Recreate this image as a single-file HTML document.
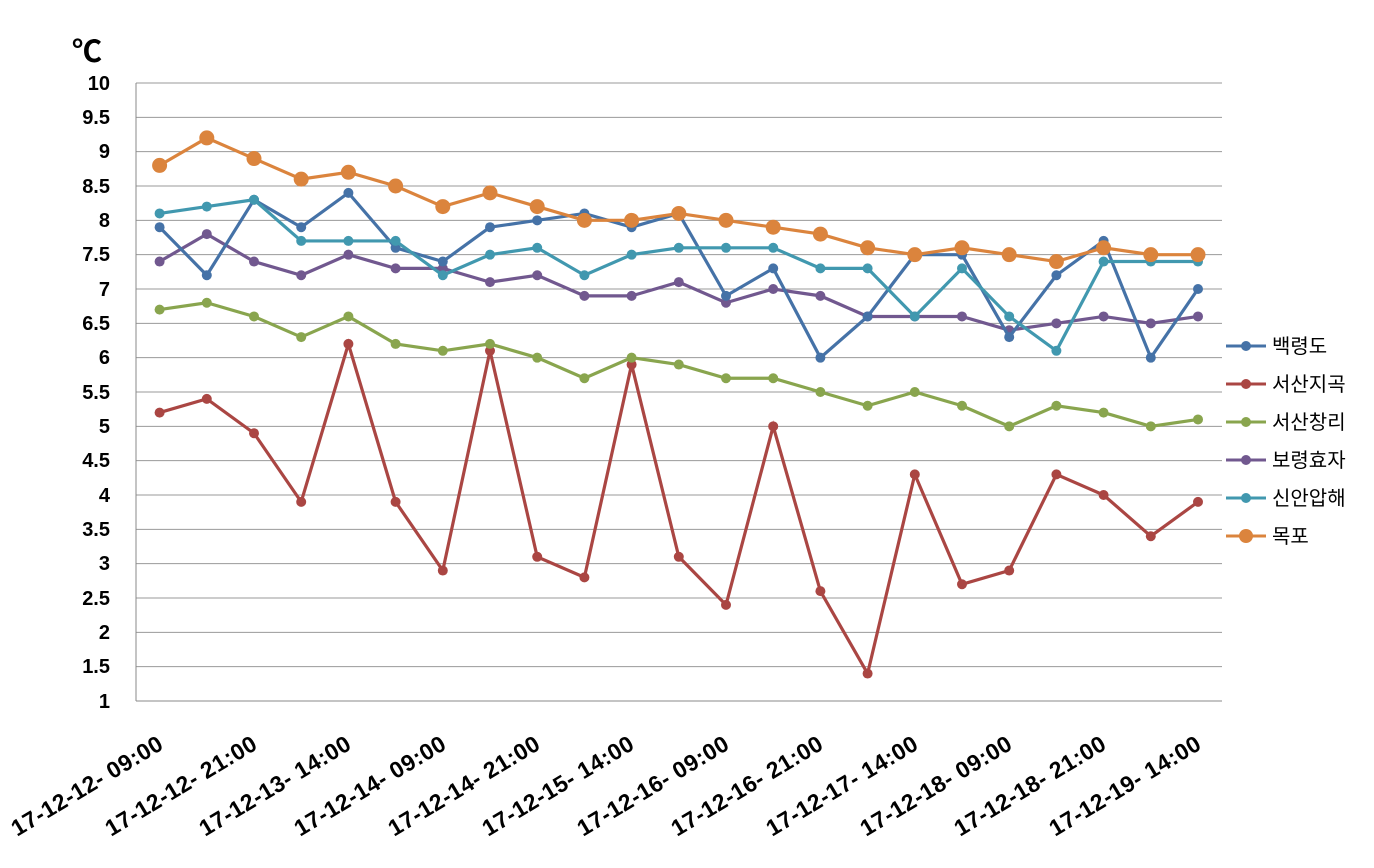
<!DOCTYPE html>
<html><head><meta charset="utf-8"><style>
html,body{margin:0;padding:0;background:#fff}
svg text{font-family:"Liberation Sans","Noto Sans CJK KR",sans-serif;font-weight:bold;fill:#000}
</style></head><body>
<svg id="c" width="1374" height="863" xmlns="http://www.w3.org/2000/svg">
<g id="grid" stroke="#999" stroke-width="1"></g>
<line x1="136" y1="83" x2="136" y2="701" stroke="#888"/>
<line x1="136" y1="701" x2="1222" y2="701" stroke="#888"/>
<text x="72" y="62" font-size="30">℃</text>
<g font-size="20" text-anchor="end">
<text x="110" y="90">10</text><text x="110" y="124">9.5</text><text x="110" y="158">9</text><text x="110" y="193">8.5</text><text x="110" y="227">8</text><text x="110" y="261">7.5</text><text x="110" y="296">7</text><text x="110" y="330">6.5</text><text x="110" y="364">6</text><text x="110" y="399">5.5</text><text x="110" y="433">5</text><text x="110" y="467">4.5</text><text x="110" y="502">4</text><text x="110" y="536">3.5</text><text x="110" y="570">3</text><text x="110" y="605">2.5</text><text x="110" y="639">2</text><text x="110" y="673">1.5</text><text x="110" y="708">1</text>
</g>
<g font-size="23" text-anchor="end" letter-spacing="0.5">
<text transform="translate(165,748) rotate(-31)">17-12-12- 09:00</text>
<text transform="translate(259,748) rotate(-31)">17-12-12- 21:00</text>
<text transform="translate(353,748) rotate(-31)">17-12-13- 14:00</text>
<text transform="translate(448,748) rotate(-31)">17-12-14- 09:00</text>
<text transform="translate(542,748) rotate(-31)">17-12-14- 21:00</text>
<text transform="translate(636,748) rotate(-31)">17-12-15- 14:00</text>
<text transform="translate(731,748) rotate(-31)">17-12-16- 09:00</text>
<text transform="translate(825,748) rotate(-31)">17-12-16- 21:00</text>
<text transform="translate(920,748) rotate(-31)">17-12-17- 14:00</text>
<text transform="translate(1014,748) rotate(-31)">17-12-18- 09:00</text>
<text transform="translate(1108,748) rotate(-31)">17-12-18- 21:00</text>
<text transform="translate(1203,748) rotate(-31)">17-12-19- 14:00</text>
</g>
<g id="series"></g>
<g font-size="20">
<line x1="1226" y1="346" x2="1266" y2="346" stroke="#4572a7" stroke-width="3"/><circle cx="1246" cy="346" r="5" fill="#4572a7"/><text x="1272" y="353" style="font-weight:normal">백령도</text>
<line x1="1226" y1="384" x2="1266" y2="384" stroke="#aa4643" stroke-width="3"/><circle cx="1246" cy="384" r="5" fill="#aa4643"/><text x="1272" y="391" style="font-weight:normal">서산지곡</text>
<line x1="1226" y1="422" x2="1266" y2="422" stroke="#89a54e" stroke-width="3"/><circle cx="1246" cy="422" r="5" fill="#89a54e"/><text x="1272" y="429" style="font-weight:normal">서산창리</text>
<line x1="1226" y1="460" x2="1266" y2="460" stroke="#71588f" stroke-width="3"/><circle cx="1246" cy="460" r="5" fill="#71588f"/><text x="1272" y="467" style="font-weight:normal">보령효자</text>
<line x1="1226" y1="498" x2="1266" y2="498" stroke="#4198af" stroke-width="3"/><circle cx="1246" cy="498" r="5" fill="#4198af"/><text x="1272" y="505" style="font-weight:normal">신안압해</text>
<line x1="1226" y1="536" x2="1266" y2="536" stroke="#db843d" stroke-width="3"/><circle cx="1246" cy="536" r="7" fill="#db843d"/><text x="1272" y="543" style="font-weight:normal">목포</text>
</g>
</svg>
<script>
var NS="http://www.w3.org/2000/svg";
function Y(v){return 701-(v-1)*68.667;}
function X(i){return 159.6+i*47.2;}
var g=document.getElementById('grid');
for(var k=0;k<18;k++){var v=10-k*0.5;var l=document.createElementNS(NS,'line');l.setAttribute('x1',136);l.setAttribute('x2',1222);l.setAttribute('y1',Y(v));l.setAttribute('y2',Y(v));g.appendChild(l);}
var S=[
["#aa4643",5,[5.2,5.4,4.9,3.9,6.2,3.9,2.9,6.1,3.1,2.8,5.9,3.1,2.4,5.0,2.6,1.4,4.3,2.7,2.9,4.3,4.0,3.4,3.9]],
["#89a54e",5,[6.7,6.8,6.6,6.3,6.6,6.2,6.1,6.2,6.0,5.7,6.0,5.9,5.7,5.7,5.5,5.3,5.5,5.3,5.0,5.3,5.2,5.0,5.1]],
["#71588f",5,[7.4,7.8,7.4,7.2,7.5,7.3,7.3,7.1,7.2,6.9,6.9,7.1,6.8,7.0,6.9,6.6,6.6,6.6,6.4,6.5,6.6,6.5,6.6]],
["#4572a7",5,[7.9,7.2,8.3,7.9,8.4,7.6,7.4,7.9,8.0,8.1,7.9,8.1,6.9,7.3,6.0,6.6,7.5,7.5,6.3,7.2,7.7,6.0,7.0]],
["#4198af",5,[8.1,8.2,8.3,7.7,7.7,7.7,7.2,7.5,7.6,7.2,7.5,7.6,7.6,7.6,7.3,7.3,6.6,7.3,6.6,6.1,7.4,7.4,7.4]],
["#db843d",7.5,[8.8,9.2,8.9,8.6,8.7,8.5,8.2,8.4,8.2,8.0,8.0,8.1,8.0,7.9,7.8,7.6,7.5,7.6,7.5,7.4,7.6,7.5,7.5]]];
var sg=document.getElementById('series');
S.forEach(function(s){var p=document.createElementNS(NS,'polyline');p.setAttribute('points',s[2].map(function(v,i){return X(i)+','+Y(v)}).join(' '));p.setAttribute('fill','none');p.setAttribute('stroke',s[0]);p.setAttribute('stroke-width',3.2);sg.appendChild(p);
s[2].forEach(function(v,i){var c=document.createElementNS(NS,'circle');c.setAttribute('cx',X(i));c.setAttribute('cy',Y(v));c.setAttribute('r',s[1]);c.setAttribute('fill',s[0]);sg.appendChild(c);});});
</script>
</body></html>
